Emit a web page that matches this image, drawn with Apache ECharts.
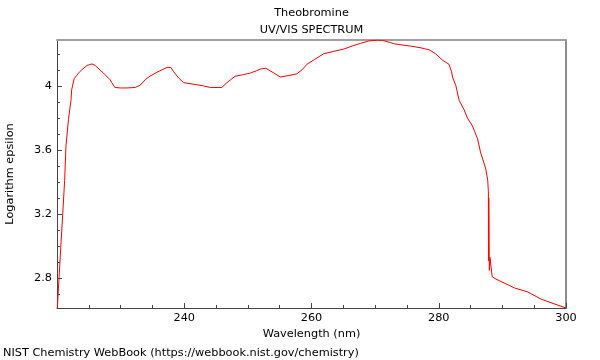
<!DOCTYPE html>
<html>
<head>
<meta charset="utf-8">
<script src="https://cdn.jsdelivr.net/npm/echarts@6/dist/echarts.min.js"></script>
<style>
html,body{margin:0;padding:0;background:#fff;}
#c{width:600px;height:360px;}
</style>
</head>
<body>
<div id="c"></div>
<script>
const wavelengths = [220.05,220.3,220.6,220.9,221.2,221.4,221.8,222.1,222.2,222.3,222.7,223.1,223.5,223.9,224.7,225.5,226.0,226.6,227.3,228.3,229.1,230.0,231.0,232.3,233.1,233.9,234.6,235.7,236.5,237.3,237.9,238.3,239.1,239.9,241.5,243.0,244.1,245.9,246.7,248.0,249.3,250.4,251.4,252.0,252.8,253.1,254.1,255.1,256.5,257.7,258.5,259.3,260.5,261.9,263.5,265.1,266.5,267.7,269.0,270.3,271.2,272.4,273.0,275.6,277.2,278.5,279.5,280.6,281.6,282.0,282.2,282.7,283.2,284.0,284.5,285.3,286.1,286.6,287.1,287.4,287.7,287.8,287.82,287.86,287.9,287.95,288.05,288.4,289.0,289.8,291.9,294.0,296.1,298.2,300.0];
const logEpsilon = [2.615,2.79,3.00,3.20,3.41,3.62,3.79,3.88,3.91,3.975,4.045,4.065,4.085,4.10,4.127,4.137,4.127,4.105,4.08,4.04,3.99,3.987,3.987,3.99,4.005,4.04,4.06,4.085,4.10,4.115,4.115,4.09,4.05,4.02,4.01,4.0,3.99,3.99,4.02,4.06,4.07,4.08,4.095,4.105,4.11,4.105,4.08,4.055,4.065,4.075,4.10,4.135,4.165,4.20,4.215,4.23,4.25,4.265,4.28,4.285,4.283,4.27,4.262,4.248,4.237,4.225,4.20,4.16,4.135,4.09,4.05,4.00,3.91,3.85,3.80,3.75,3.67,3.58,3.52,3.48,3.41,3.34,2.91,3.30,3.14,2.85,2.93,2.81,2.795,2.78,2.74,2.715,2.67,2.64,2.615];
const yMajorTicks = [2.8,3.2,3.6,4.0];
const yMinorTicks = [2.7,2.8,2.9,3.0,3.1,3.2,3.3,3.4,3.5,3.6,3.7,3.8,3.9,4.0,4.1,4.2];
const titleText = 'Theobromine';
const subTitleText = 'UV/VIS SPECTRUM';
const xName = 'Wavelength (nm)';
const yName = 'Logarithm epsilon';
const footerText = 'NIST Chemistry WebBook (https://webbook.nist.gov/chemistry)';

const FONT = 'DejaVu Sans';
const FS = 11.3;
const yMin = 2.615, yMax = 4.286;

const chart = echarts.init(document.getElementById('c'), null, {renderer:'canvas'});
chart.setOption({
  animation: false,
  backgroundColor: '#fff',
  textStyle: {fontFamily: FONT},
  title: [
    {text: titleText, left: 311.5, top: 8, textAlign: 'center', padding: 0,
     textStyle: {fontFamily: FONT, fontSize: FS, fontWeight: 'normal', color: '#000'}},
    {text: subTitleText, left: 311.5, top: 25, textAlign: 'center', padding: 0,
     textStyle: {fontFamily: FONT, fontSize: FS, fontWeight: 'normal', color: '#000'}},
    {text: footerText, left: 3, top: 347.5, padding: 0,
     textStyle: {fontFamily: FONT, fontSize: FS, fontWeight: 'normal', color: '#000'}}
  ],
  grid: {left: 57, right: 34, top: 40, bottom: 52, containLabel: false, outerBoundsMode: 'none'},
  xAxis: [
    {type: 'value', min: 220, max: 300, interval: 20, position: 'bottom',
     name: xName, nameLocation: 'middle', nameGap: 21,
     nameTextStyle: {fontFamily: FONT, fontSize: FS, color: '#000'},
     axisLine: {show: true, lineStyle: {color: '#444', width: 1}},
     axisTick: {show: true, inside: true, length: 5, lineStyle: {color: '#444'}},
     minorTick: {show: true, splitNumber: 4, length: 3, lineStyle: {color: '#444'}},
     axisLabel: {showMinLabel: false, fontFamily: FONT, fontSize: FS, color: '#000', margin: 5},
     splitLine: {show: false}},
    {type: 'value', min: 220, max: 300, position: 'top',
     axisLine: {show: true, lineStyle: {color: '#a0a0a0', width: 2}},
     axisTick: {show: false}, axisLabel: {show: false}, splitLine: {show: false}}
  ],
  yAxis: [
    {type: 'value', min: yMin, max: yMax, position: 'left',
     name: yName, nameLocation: 'middle', nameGap: 41,
     nameTextStyle: {fontFamily: FONT, fontSize: FS, color: '#000'},
     axisLine: {show: true, lineStyle: {color: '#444', width: 1}},
     axisTick: {show: true, inside: true, length: 5, customValues: yMajorTicks, lineStyle: {color: '#444'}},
     axisLabel: {customValues: yMajorTicks, fontFamily: FONT, fontSize: FS, color: '#000', margin: 5,
                 formatter: v => String(Math.round(v*10)/10)},
     splitLine: {show: false}},
    {type: 'value', min: yMin, max: yMax, position: 'left',
     axisLine: {show: false},
     axisTick: {show: true, inside: true, length: 3, customValues: yMinorTicks, lineStyle: {color: '#444'}},
     axisLabel: {show: false}, splitLine: {show: false}},
    {type: 'value', min: yMin, max: yMax, position: 'right',
     axisLine: {show: true, lineStyle: {color: '#666', width: 1.5}},
     axisTick: {show: false}, axisLabel: {show: false}, splitLine: {show: false}}
  ],
  series: [{
    type: 'line',
    xAxisIndex: 0, yAxisIndex: 0,
    data: wavelengths.map((w, i) => [w, logEpsilon[i]]),
    showSymbol: false, symbol: 'none',
    lineStyle: {color: '#ff0000', width: 1},
    clip: true
  }]
});
</script>
</body>
</html>
